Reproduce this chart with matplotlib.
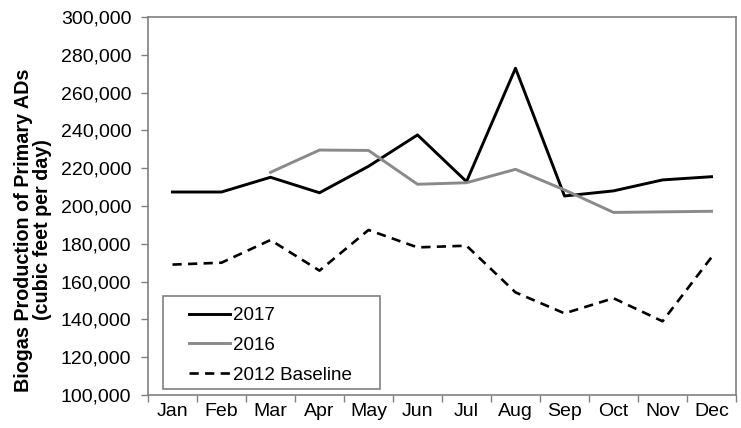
import numpy as np
import matplotlib
matplotlib.use("Agg")
import matplotlib.pyplot as plt
from matplotlib.patches import Rectangle
from matplotlib.ticker import FuncFormatter, FixedLocator

months = ["Jan", "Feb", "Mar", "Apr", "May", "Jun", "Jul", "Aug", "Sep", "Oct", "Nov", "Dec"]
y2017 = [207400, 207400, 215200, 207000, 221000, 237600, 212900, 272900, 205300, 208000, 213800, 215500]
y2016 = [np.nan, np.nan, 217800, 229600, 229400, 211500, 212300, 219400, 208500, 196600, 196900, 197200]
baseline = [169000, 170000, 182000, 165800, 187300, 178100, 179000, 154300, 143200, 151200, 139000, 172900]

plt.rcParams['font.family'] = ['Liberation Sans', 'DejaVu Sans']
fs = 14

fig = plt.figure(figsize=(7.41, 4.28), dpi=100)
ax = fig.add_axes([0.1997, 0.0771, 0.7936, 0.8832])

x = np.arange(len(months))
ax.plot(x, y2017, color='black', lw=2.1, label='2017')
ax.plot(x, y2016, color='#8a8a8a', lw=2.1, label='2016')
ax.plot(x, baseline, color='black', lw=1.9, ls=(0, (3.5, 2.4)), label='2012 Baseline')

ax.set_xlim(-0.5, 11.5)
ax.set_ylim(100000, 300000)
ax.set_yticks(np.arange(100000, 300001, 20000))
ax.yaxis.set_major_formatter(FuncFormatter(lambda v, p: f"{int(v):,}"))

ax.xaxis.set_major_locator(FixedLocator(np.arange(-0.5, 12, 1)))
ax.xaxis.set_minor_locator(FixedLocator(x))
ax.set_xticklabels([], minor=False)
ax.set_xticklabels(months, minor=True)
ax.tick_params(axis='x', which='minor', length=0, labelsize=fs, pad=6)
ax.tick_params(axis='x', which='major', length=5, color='#808080', width=1)
ax.tick_params(axis='y', length=5, color='#808080', width=1, labelsize=fs, pad=7)

for s in ax.spines.values():
    s.set_color('#808080')
    s.set_linewidth(1.2)

# y label placed by hand, centred a little below the axes middle
fig.text(33 / 741, 1 - 230 / 428, "Biogas Production of Primary ADs\n(cubic feet per day)",
         rotation=90, ha='center', va='center', multialignment='center',
         fontsize=14.2, fontweight='bold', linespacing=1.02)

# legend box drawn separately so the entries sit centred inside it
ax.add_patch(Rectangle((0.0255, 0.016), 0.369, 0.246, transform=ax.transAxes,
                       fill=False, edgecolor='#808080', lw=1.2, zorder=4))
leg = ax.legend(loc='center', bbox_to_anchor=(0.208, 0.131), frameon=False,
                fontsize=13.5, handlelength=2.2, handletextpad=0.15, labelspacing=0.68,
                borderaxespad=0, borderpad=0)

fig.savefig("out.png", dpi=100)
